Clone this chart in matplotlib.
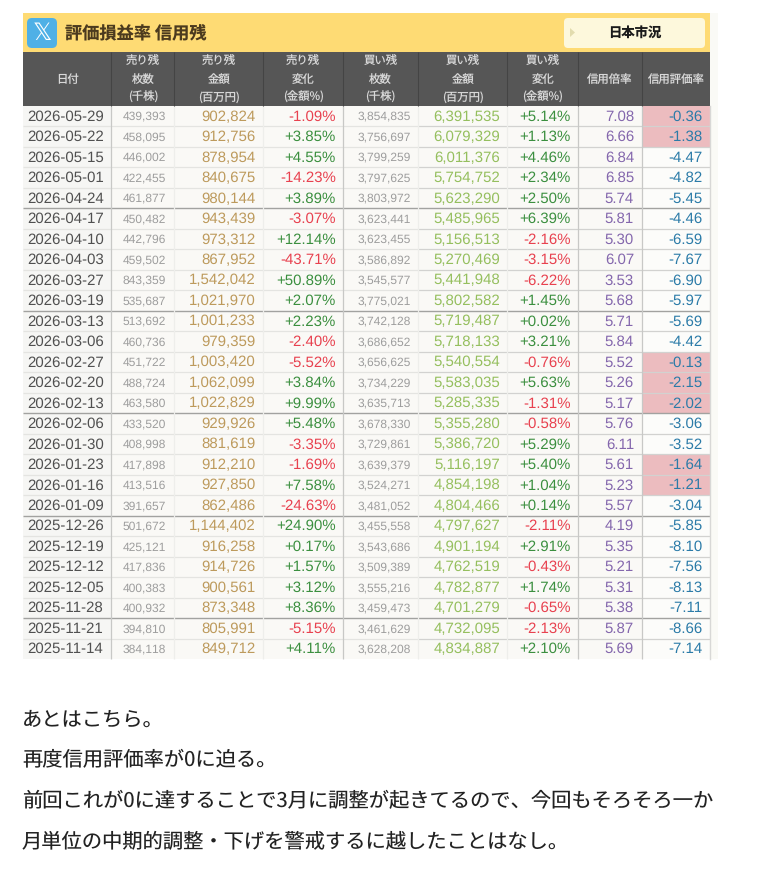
import matplotlib
matplotlib.use("Agg")
import matplotlib.pyplot as plt
from matplotlib.patches import Rectangle, FancyBboxPatch, Polygon

plt.rcParams['text.hinting'] = 'no_hinting'
plt.rcParams['text.hinting_factor'] = 1

CJK = ['Noto Sans CJK JP', 'DejaVu Sans']
NUM = ['Liberation Sans', 'DejaVu Sans']

title = "評価損益率 信用残"
button = "日本市況"
headers = [["日付"], ["売り残", "枚数", "(千株)"], ["売り残", "金額", "(百万円)"], ["売り残", "変化", "(金額%)"],
           ["買い残", "枚数", "(千株)"], ["買い残", "金額", "(百万円)"], ["買い残", "変化", "(金額%)"],
           ["信用倍率"], ["信用評価率"]]
dates = ["2026-05-29","2026-05-22","2026-05-15","2026-05-01","2026-04-24","2026-04-17","2026-04-10","2026-04-03","2026-03-27",
         "2026-03-19","2026-03-13","2026-03-06","2026-02-27","2026-02-20","2026-02-13","2026-02-06","2026-01-30","2026-01-23",
         "2026-01-16","2026-01-09","2025-12-26","2025-12-19","2025-12-12","2025-12-05","2025-11-28","2025-11-21","2025-11-14"]
sell_shares = ["439,393","458,095","446,002","422,455","461,877","450,482","442,796","459,502","843,359","535,687","513,692",
               "460,736","451,722","488,724","463,580","433,520","408,998","417,898","413,516","391,657","501,672","425,121",
               "417,836","400,383","400,932","394,810","384,118"]
sell_amount = ["902,824","912,756","878,954","840,675","980,144","943,439","973,312","867,952","1,542,042","1,021,970","1,001,233",
               "979,359","1,003,420","1,062,099","1,022,829","929,926","881,619","912,210","927,850","862,486","1,144,402","916,258",
               "914,726","900,561","873,348","805,991","849,712"]
sell_change = ["-1.09%","+3.85%","+4.55%","-14.23%","+3.89%","-3.07%","+12.14%","-43.71%","+50.89%","+2.07%","+2.23%","-2.40%",
               "-5.52%","+3.84%","+9.99%","+5.48%","-3.35%","-1.69%","+7.58%","-24.63%","+24.90%","+0.17%","+1.57%","+3.12%",
               "+8.36%","-5.15%","+4.11%"]
buy_shares = ["3,854,835","3,756,697","3,799,259","3,797,625","3,803,972","3,623,441","3,623,455","3,586,892","3,545,577","3,775,021",
              "3,742,128","3,686,652","3,656,625","3,734,229","3,635,713","3,678,330","3,729,861","3,639,379","3,524,271","3,481,052",
              "3,455,558","3,543,686","3,509,389","3,555,216","3,459,473","3,461,629","3,628,208"]
buy_amount = ["6,391,535","6,079,329","6,011,376","5,754,752","5,623,290","5,485,965","5,156,513","5,270,469","5,441,948","5,802,582",
              "5,719,487","5,718,133","5,540,554","5,583,035","5,285,335","5,355,280","5,386,720","5,116,197","4,854,198","4,804,466",
              "4,797,627","4,901,194","4,762,519","4,782,877","4,701,279","4,732,095","4,834,887"]
buy_change = ["+5.14%","+1.13%","+4.46%","+2.34%","+2.50%","+6.39%","-2.16%","-3.15%","-6.22%","+1.45%","+0.02%","+3.21%","-0.76%",
              "+5.63%","-1.31%","-0.58%","+5.29%","+5.40%","+1.04%","+0.14%","-2.11%","+2.91%","-0.43%","+1.74%","-0.65%","-2.13%","+2.10%"]
ratio = ["7.08","6.66","6.84","6.85","5.74","5.81","5.30","6.07","3.53","5.68","5.71","5.84","5.52","5.26","5.17","5.76","6.11",
         "5.61","5.23","5.57","4.19","5.35","5.21","5.31","5.38","5.87","5.69"]
rating = ["-0.36","-1.38","-4.47","-4.82","-5.45","-4.46","-6.59","-7.67","-6.90","-5.97","-5.69","-4.42","-0.13","-2.15","-2.02",
          "-3.06","-3.52","-1.64","-1.21","-3.04","-5.85","-8.10","-7.56","-8.13","-7.11","-8.66","-7.14"]
paragraphs = ["あとはこちら。", "再度信用評価率が0に迫る。",
              "前回これが0に達することで3月に調整が起きてるので、今回もそろそろ一か",
              "月単位の中期的調整・下げを警戒するに越したことはなし。"]

fig = plt.figure(figsize=(7.65, 8.72), dpi=100, facecolor="white")
ax = fig.add_axes([0, 0, 1, 1])
ax.set_xlim(0, 765)
ax.set_ylim(872, 0)
ax.axis("off")

edges = [23, 111.5, 174.5, 263.5, 343, 418.5, 507.5, 578, 642, 710]
right = [None, 166, 255.5, 336, 411, 500, 571, 634, 703]
top, head, row_h = 52, 106, 553 / 27
n = len(dates)
bottom = head + n * row_h

ax.add_patch(Rectangle((710, 13), 8, bottom - 13, fc="#fafaf6", ec="none"))
ax.add_patch(Rectangle((23, 13), 687, 39, fc="#fedb74", ec="none"))
ax.add_patch(FancyBboxPatch((29, 20), 26, 26, boxstyle="round,pad=2,rounding_size=5", fc="#4fb0e6", ec="none"))
ax.text(42, 33.5, "\U0001D54F", color="white", fontsize=17, ha="center", va="center", family="DejaVu Sans")
ax.text(65, 33, title, color="#4b3a1e", fontsize=12.4, fontweight="bold", family=CJK, ha="left", va="center")
ax.add_patch(FancyBboxPatch((566, 20), 137, 26, boxstyle="round,pad=2,rounding_size=4", fc="#fdf8dc", ec="none"))
ax.add_patch(Polygon([(570, 28), (575, 32.5), (570, 37)], fc="#e2dcae", ec="none"))
ax.text(634.5, 33, button, color="#1a1a1a", fontsize=9.6, fontweight="bold", family=CJK, ha="center", va="center")

# header row
ax.add_patch(Rectangle((23, top), 687, head - top, fc="#565656", ec="none"))
for c, lines in enumerate(headers):
    cx = (edges[c] + edges[c + 1]) / 2
    ys = [80] if len(lines) == 1 else [62, 79.5, 97]
    for y, line in zip(ys, lines):
        ax.text(cx, y, line, color="#d8d8d8", fontsize=8.2, family=CJK, ha="center", va="center")

# body
ax.add_patch(Rectangle((23, head), 687, bottom - head, fc="#faf9f6", ec="none"))
ax.add_patch(Rectangle((23, head), edges[1] - 23, bottom - head, fc="#f6f6f4", ec="none"))
ax.add_patch(Rectangle((edges[8], head), 68, bottom - head, fc="#fcfcfa", ec="none"))

RED, GREEN = "#e8414f", "#3b8f3f"
for i in range(n):
    y0 = head + i * row_h
    yc = y0 + row_h / 2 + 0.6
    if float(rating[i]) > -2.5:
        ax.add_patch(Rectangle((edges[8] + 1, y0), 67, row_h, fc="#ecbcbf", ec="none"))
    ax.text(27, yc, dates[i], color="#505050", fontsize=11, family=NUM, ha="left", va="center")
    cols = [(1, sell_shares[i], "#9d9d9d", 8.8), (2, sell_amount[i], "#bd9a5c", 11),
            (3, sell_change[i], RED if sell_change[i][0] == "-" else GREEN, 11),
            (4, buy_shares[i], "#9d9d9d", 8.8), (5, buy_amount[i], "#95bf5e", 11),
            (6, buy_change[i], RED if buy_change[i][0] == "-" else GREEN, 11),
            (7, ratio[i], "#8467ad", 11), (8, rating[i], "#2b7ba8", 11)]
    for c, s, col, fs in cols:
        ax.text(right[c], yc, s, color=col, fontsize=fs, family=NUM, ha="right", va="center")

for i in range(1, n):
    y = head + i * row_h
    if i % 5 == 0:
        ax.plot([23, 710], [y, y], color="#a2a2a0", lw=1.0, solid_capstyle="butt")
    else:
        ax.plot([23, edges[5]], [y, y], color="#e4e4e1", lw=0.9, solid_capstyle="butt")
        ax.plot([edges[5], 710], [y, y], color="#d2d2d0", lw=0.9, solid_capstyle="butt")
for k, x in enumerate(edges[1:-1], start=1):
    col = "#c8c8c6" if k in (1, 4, 7, 8) else "#eeeeeb"
    ax.plot([x, x], [head, bottom], color=col, lw=0.9, solid_capstyle="butt")
    ax.plot([x, x], [top, head], color="#444444", lw=0.8, solid_capstyle="butt")
ax.plot([710, 710], [head, bottom], color="#d8d8d6", lw=1.0)

for y, line in zip([719.5, 760.5, 801.5, 842.5], paragraphs):
    ax.text(22, y, line, color="#222222", fontsize=14.6, family=CJK, ha="left", va="center")

fig.savefig("out.png", dpi=100, facecolor="white")
